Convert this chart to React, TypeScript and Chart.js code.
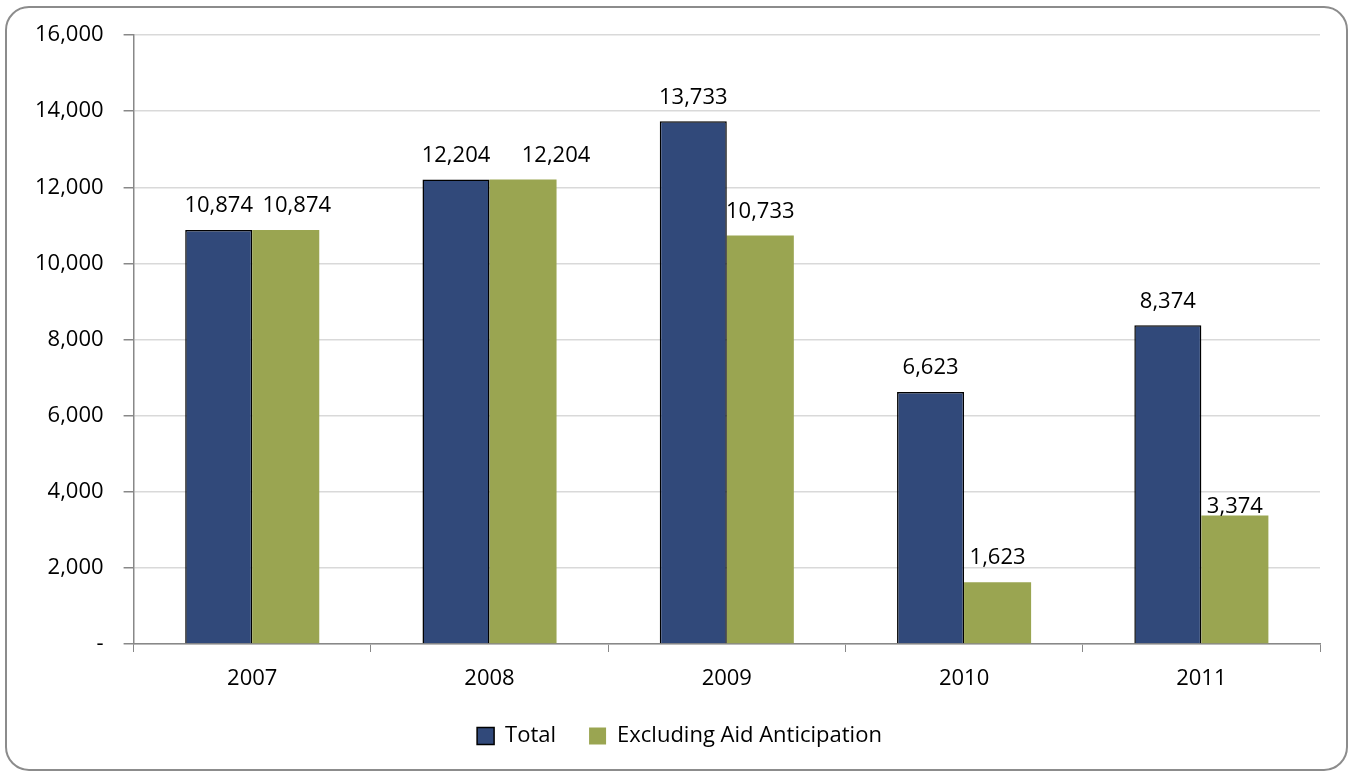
import React, { useEffect, useRef } from "react";
import { Chart, registerables } from "chart.js";

Chart.register(...registerables);

const categories = ["2007", "2008", "2009", "2010", "2011"];
const totalValues = [10874, 12204, 13733, 6623, 8374];
const excludingValues = [10874, 12204, 10733, 1623, 3374];
const seriesNames = ["Total", "Excluding Aid Anticipation"];

const FONT = "'Open Sans', 'DejaVu Sans', sans-serif";
const fmt = (v: number) => (v === 0 ? "-" : v.toLocaleString("en-US"));

// Manual label nudges (pixels) as placed in the reference, for the second series
const greenLabelShiftX = [11, 33, 0, 0, 0];
const greenLabelLift = [13, 13, 13, 13, -2];

const labelPlugin = {
  id: "barLabels",
  afterDatasetsDraw(chart: any) {
    const ctx = chart.ctx;
    ctx.save();
    ctx.font = `22px ${FONT}`;
    ctx.fillStyle = "#000";
    ctx.textAlign = "center";
    ctx.textBaseline = "bottom";
    chart.data.datasets.forEach((ds: any, di: number) => {
      const meta = chart.getDatasetMeta(di);
      meta.data.forEach((bar: any, i: number) => {
        const v = ds.data[i];
        const dx = di === 1 ? greenLabelShiftX[i] : 0;
        const lift = di === 1 ? greenLabelLift[i] : 13;
        ctx.fillText(fmt(v), bar.x + dx, bar.y - lift);
      });
    });
    ctx.restore();
  },
};

// Centre the legend under the whole frame rather than the padded layout box
const legendShift = {
  id: "legendShift",
  afterLayout(chart: any) {
    if (chart.legend) {
      chart.legend.left += 12;
      chart.legend.right += 12;
    }
  },
};

export default function App() {
  const ref = useRef<HTMLCanvasElement>(null);
  useEffect(() => {
    if (!ref.current) return;
    const chart = new Chart(ref.current, {
      type: "bar",
      data: {
        labels: categories,
        datasets: [
          {
            label: seriesNames[0],
            data: totalValues,
            backgroundColor: "#31497a",
            borderColor: "#000000",
            borderWidth: 1.5,
            categoryPercentage: 0.565,
            barPercentage: 1,
          },
          {
            label: seriesNames[1],
            data: excludingValues,
            backgroundColor: "#9aa551",
            borderWidth: 0,
            categoryPercentage: 0.565,
            barPercentage: 1,
          },
        ],
      },
      options: {
        animation: false,
        responsive: false,
        maintainAspectRatio: false,
        layout: { padding: { left: 8, right: 26, top: 27, bottom: 12 } },
        plugins: {
          tooltip: { enabled: false },
          legend: {
            position: "bottom",
            labels: {
              font: { family: FONT, size: 22 },
              color: "#000",
              boxWidth: 17,
              boxHeight: 17,
              padding: 33,
            },
          },
        },
        scales: {
          x: {
            afterFit: (s: any) => {
              s.height = 48;
            },
            grid: {
              display: true,
              drawOnChartArea: false,
              drawTicks: true,
              tickLength: 8,
              tickColor: "#888888",
              offset: true,
            },
            border: { color: "#888888", width: 1.5 },
            ticks: { font: { family: FONT, size: 22 }, color: "#000", padding: 14 },
          },
          y: {
            min: 0,
            max: 16000,
            afterFit: (s: any) => {
              s.paddingTop = 0;
              s.paddingBottom = 0;
            },
            ticks: {
              stepSize: 2000,
              font: { family: FONT, size: 22 },
              color: "#000",
              padding: 20,
              callback: (v: any) => fmt(Number(v)),
            },
            grid: { color: "#d9d9d9", lineWidth: 1.5, tickColor: "#888888", tickLength: 10 },
            border: { color: "#888888", width: 1.5 },
          },
        },
      },
      plugins: [labelPlugin, legendShift],
    });
    return () => chart.destroy();
  }, []);

  return (
    <div
      style={{
        position: "fixed",
        left: 5,
        top: 6,
        width: 1343,
        height: 765,
        boxSizing: "border-box",
        border: "2px solid #8c8c8c",
        borderRadius: 24,
        background: "#fff",
        overflow: "hidden",
      }}
    >
      <canvas ref={ref} width={1339} height={761} style={{ display: "block" }} />
    </div>
  );
}
